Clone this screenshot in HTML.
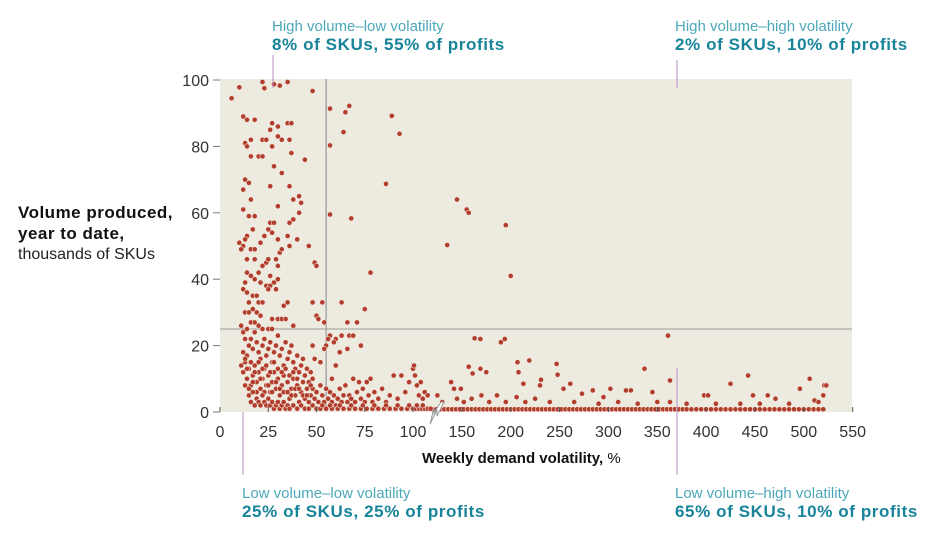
<!DOCTYPE html>
<html><head><meta charset="utf-8">
<style>
body{margin:0;background:#fff;width:940px;height:549px;overflow:hidden;font-family:"Liberation Sans",sans-serif}
svg{position:absolute;left:0;top:0}
.b{font-weight:bold;font-size:17px;letter-spacing:0.6px}
</style></head>
<body>
<svg id="chart" width="940" height="549" viewBox="0 0 940 549">
<rect x="220" y="79" width="632" height="333" fill="#edeadf"/>
<g id="grid"></g>
<g id="dots"></g>
<g id="axes"></g>
<g font-size="16">
<text x="18" y="218" class="b" fill="#111" style="letter-spacing:0.5px">Volume produced,</text>
<text x="18" y="239" class="b" fill="#111" style="letter-spacing:0.5px">year to date,</text>
<text x="18" y="259" fill="#222">thousands of SKUs</text>
</g>
<text x="422" y="463" font-size="15" fill="#111"><tspan font-weight="bold">Weekly demand volatility,</tspan> %</text>
<g font-size="15">
<text x="272" y="31" fill="#4ba8b8">High volume–low volatility</text>
<text x="272" y="50" fill="#17849a" class="b">8% of SKUs, 55% of profits</text>
</g>
<g font-size="15">
<text x="675" y="31" fill="#4ba8b8">High volume–high volatility</text>
<text x="675" y="50" fill="#17849a" class="b">2% of SKUs, 10% of profits</text>
</g>
<g font-size="15">
<text x="242" y="498" fill="#4ba8b8">Low volume–low volatility</text>
<text x="242" y="517" fill="#17849a" class="b">25% of SKUs, 25% of profits</text>
</g>
<g font-size="15">
<text x="675" y="498" fill="#4ba8b8">Low volume–high volatility</text>
<text x="675" y="517" fill="#17849a" class="b">65% of SKUs, 10% of profits</text>
</g>
</svg>
<script>
const xTicks=[0,25,50,75,100,150,200,250,300,350,400,450,500,550];
const yTicks=[0,20,40,60,80,100];
const volThreshold=55;
const qtyThreshold=25;
const upperPoints=[[6,94.5],[10,97.8],[22,99.4],[23,97.5],[28,98.7],[31,98.3],[35,99.4],[48,96.7],[57,91.4],[65,90.3],[67,92.2],[89,89.2],[93,83.8],[64,84.3],[57,80.3],[57,59.5],[68,58.3],[86,68.7],[78,42],[145,64],[155,61],[157,60],[135,50.3],[195,56.3],[200,41],
[12,89],[14,88],[13,81],[14,80],[16,82],[18,88],[20,77],[22,77],[22,82],[24,82],[27,87],[26,85],[27,80],[30,83],[30,86],[32,82],[35,87],[37,87],[36,82],[37,78],[32,72],[28,74],[26,68],[16,77],[13,70],[15,69],[12,67],[16,64],[18,59],[15,59],[12,61],[17,55],[14,53],[12,50],[11,49],[10,51],[13,52],[14,46],[16,49],[18,49],[18,46],[21,51],[23,53],[25,55],[27,54],[26,57],[30,52],[31,48],[32,49],[35,53],[36,50],[36,57],[38,58],[40,52],[38,64],[41,65],[42,63],[36,68],[30,62],[28,57],[41,60],[44,76],[46,50],[20,42],[22,44],[24,45],[25,46],[29,46],[30,44],[14,42],[16,41],[18,40],[21,39],[24,38],[26,38],[28,39],[29,37],[13,39],[12,37],[14,36],[17,35],[19,35],[25,37],[26,41],[30,40],[33,32],[35,33],[15,33],[20,33],[22,33],[13,30],[15,30],[17,31],[19,30],[21,29],[27,28],[30,28],[32,28],[34,28],[25,25],[27,25],[38,26],[48,33],[50,29],[51,28],[49,45],[50,44],[53,33],[54,27],[63,33],[66,27],[67,23],[63,23],[69,23],[73,20],[75,31],[71,27],[60,22],[57,23],[56,22],[55,20],[49,16],[48,20],[52,15],[54,19],[59,21],[62,18],[66,19],[60,14],[58,10]];
const lowPoints=[[12,18],[13,15],[11,14],[12,12],[14,17],[15,20],[16,22],[17,19],[18,24],[19,21],[20,18],[21,16],[22,20],[23,22],[24,17],[25,19],[26,21],[27,15],[28,18],[29,20],[30,23],[31,17],[32,19],[33,14],[34,21],[35,16],[36,18],[37,20],[38,15],[39,13],[40,17],[41,12],[42,14],[43,16],[44,11],[45,13],[46,9],[47,12],[48,10],[14,10],[15,13],[16,8],[17,11],[18,14],[19,9],[20,12],[21,7],[22,10],[23,13],[24,8],[25,11],[26,6],[27,9],[28,12],[29,7],[30,10],[31,5],[32,8],[33,11],[34,6],[35,9],[36,4],[37,7],[38,10],[39,5],[40,8],[41,3],[42,6],[43,9],[44,4],[45,7],[46,3],[47,5],[48,7],[49,4],[50,6],[51,3],[52,8],[53,5],[54,3],[55,7],[56,4],[57,6],[58,3],[59,5],[60,2],[61,4],[62,7],[63,3],[64,5],[65,8],[66,3],[67,5],[68,4],[69,10],[70,3],[71,6],[72,9],[73,4],[74,7],[75,3],[76,9],[77,5],[78,10],[79,3],[80,6],[82,4],[84,7],[86,3],[88,5],[90,11],[92,4],[94,11],[96,6],[98,9],[100,13],[101,14],[102,11],[104,8],[106,5],[108,9],[110,4],[112,6],[115,5],
[13,16],[14,13],[16,15],[18,12],[20,15],[22,13],[24,14],[26,12],[28,15],[30,13],[32,12],[34,13],[36,11],[38,12],[40,10],[13,8],[15,7],[17,9],[19,6],[21,10],[23,6],[25,8],[27,6],[29,9],[31,7],[33,6],[35,6],[37,5],[39,7],[41,7],[43,5],[45,5],[47,8],[13,22],[11,26],[12,24],[14,25],[16,27],[18,27],[20,26],[22,25],
[15,5],[16,3],[17,6],[18,2],[19,4],[20,3],[21,2],[22,5],[23,3],[24,2],[25,4],[26,2],[27,3],[28,1],[29,2],[30,3],[31,1],[32,2],[33,3],[34,1],[35,2],[36,1],[38,2],[40,1],[42,2],[44,1],[46,1],[48,2],[50,1],[52,1],[55,1],[58,1],[61,1],[64,1],[67,1],[70,1],[73,1],[76,1],[79,1],[82,1],[85,1],[88,1],[91,1],[94,1],[97,1],[100,1],[103,1],[106,1],[109,1],[112,1],[115,1],[118,1],[53,2],[57,2],[62,2],[68,2],[74,2],[80,2],[86,2],[92,2],[98,2],[104,2],[110,2]];
const highVolPoints=[[163,22.2],[169,22],[190,21],[194,22],[361,23],[157,13.6],[161,11.6],[169,13],[175,12],[207,15],[208,12],[219,15.5],[247,14.5],[248,11.2],[231,9.7],[230,8],[213,8.5],[139,9],[142,7],[149,7],[254,7],[261,8.5],[337,13],[345,6],[363,9.5],[425,8.5],[443,11],[448,5],[463,5],[471,4],[496,7],[506,10],[511,3.5],[521,8],[523,8],[398,5],[402,5],[318,6.5],[323,6.5],[302,7],[284,6.5],[273,5.5],[295,4.5],[186,5],[206,4.5],[125,5],[130,3],[145,4],[152,3],[160,4],[170,5],[178,3],[195,3],[215,3],[225,4],[240,3],[265,3],[290,2.5],[310,3],[330,2.5],[350,3],[380,2.5],[410,2.5],[435,2.5],[455,2.5],[485,2.5],[515,3],[520,5],[363,3]];
const bottomRow=[120,124,128,132,136,140,144,148,152,156,160,164,168,172,176,180,184,188,192,196,200,204,208,212,216,220,224,228,232,236,240,244,248,252,256,260,264,268,272,276,280,284,288,292,296,300,304,308,312,316,320,324,328,332,336,340,344,348,352,356,360,364,368,372,376,380,385,390,395,400,405,410,415,420,425,430,435,440,445,450,455,460,465,470,475,480,485,490,495,500,505,510,515,520];
const bottomRowQty=0.8;

const X0=220,Y0=412,Y100=80;
function xs(v){return v<=100? X0+v*1.93 : 413+(v-100)*0.977;}
function ys(v){return Y0-(v/100)*(Y0-Y100);}
const NS='http://www.w3.org/2000/svg';
function mk(tag,attrs,parent){const e=document.createElementNS(NS,tag);for(const k in attrs)e.setAttribute(k,attrs[k]);parent.appendChild(e);return e;}
const grid=document.getElementById('grid'),dots=document.getElementById('dots'),axes=document.getElementById('axes');

const vl=mk('line',{x1:xs(volThreshold),x2:xs(volThreshold),y1:79,y2:412,stroke:'#a8a8a8','stroke-width':1.5},grid);


const hl=mk('line',{x1:220,x2:852,y1:ys(qtyThreshold),y2:ys(qtyThreshold),stroke:'#999','stroke-width':1},grid);



function dot(p){
  const c=mk('circle',{cx:xs(p[0]).toFixed(1),cy:ys(p[1]).toFixed(1),r:2.6,fill:'#b13d2c',stroke:'#f3e2d8','stroke-width':0.6},dots);
  
  
}
bottomRow.forEach(x=>dot([x,bottomRowQty]));
highVolPoints.forEach(dot);
lowPoints.forEach(dot);
upperPoints.forEach(dot);

xTicks.forEach(t=>{
  const tk=mk('line',{x1:xs(t),x2:xs(t),y1:407,y2:412,stroke:'#555','stroke-width':1},axes);
  
  
  const tx=mk('text',{x:xs(t),y:437,'text-anchor':'middle','font-size':16,fill:'#333'},axes);
  tx.textContent=t;
  
  
});
yTicks.forEach(t=>{
  const tk=mk('line',{x1:213,x2:220,y1:ys(t),y2:ys(t),stroke:'#777','stroke-width':1},axes);
  
  
  const tx=mk('text',{x:209,y:ys(t)+6,'text-anchor':'end','font-size':16,fill:'#333'},axes);
  tx.textContent=t;
  
  
});
const br=mk('path',{d:'M430 424 L437 410 L437 416 L444 402 L441 402 L434 413 L434 408 Z',fill:'#fff',stroke:'#999','stroke-width':1},axes);


[[273,55,88],[243,412,475],[677,60,88],[677,368,475]].forEach(l=>{
  const e=mk('line',{x1:l[0],x2:l[0],y1:l[1],y2:l[2],stroke:'#b58fc0','stroke-width':1},axes);
  
  
});
</script>
</body></html>
